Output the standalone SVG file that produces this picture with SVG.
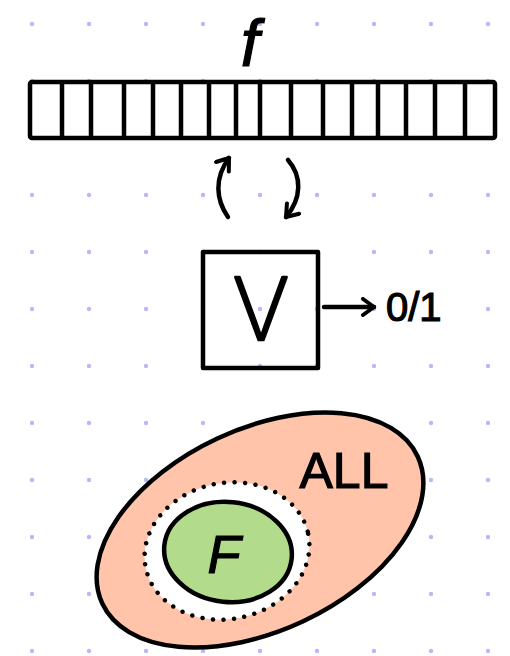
<svg xmlns="http://www.w3.org/2000/svg" width="510" height="656" viewBox="0 0 510 656">
  <defs>
    <pattern id="grid" x="0" y="0" width="57" height="57" patternUnits="userSpaceOnUse">
      <circle cx="32" cy="24" r="2.2" fill="#b9b9f7"/>
    </pattern>
    <marker id="head" viewBox="0 0 20 20" refX="16" refY="10" markerWidth="20" markerHeight="20" markerUnits="userSpaceOnUse" orient="auto">
      <path d="M5,2 L16,10 L5,18" fill="none" stroke="#000" stroke-width="4" stroke-linecap="round" stroke-linejoin="round"/>
    </marker>
  </defs>
  <style>
    .ink { fill: none; stroke: #000; stroke-width: 4.5; stroke-linecap: round; stroke-linejoin: round; }
    .lbl { font-family: "Liberation Sans", Arial, sans-serif; fill: #000; stroke: #000; stroke-width: 1.2; }
    .thin { font-family: Inter, "Open Sans", "DejaVu Sans", sans-serif; font-weight: 200; fill: #000; stroke: #000; stroke-width: 2.6; stroke-linejoin: round; }
  </style>
  <rect width="510" height="656" fill="#ffffff"/>
  <rect width="510" height="656" fill="url(#grid)"/>

  <g id="array">
    <rect class="ink" x="30" y="82" width="465" height="56" rx="2"/>
    <path class="ink" d="M62,83V137 M91,83V137 M124,83V137 M153,83V137 M181,83V137 M209,83V137 M236,83V137 M260,83V137 M291,83V137 M323,83V137 M352,83V137 M378,83V137 M406,83V137 M435,83V137 M465,83V137"/>
    <text class="lbl" x="250" y="66" font-size="66" text-anchor="middle" font-style="italic">f</text>
  </g>

  <g id="verifier">
    <rect class="ink" x="203" y="252" width="115" height="116"/>
    <text class="thin" x="261" y="340" font-size="86" text-anchor="middle">V</text>
  </g>

  <g id="output">
    <text class="lbl" x="386" y="321" font-size="40" stroke-width="1.8">0/1</text>
  </g>

  <g id="sets">
    <ellipse cx="260" cy="530" rx="174" ry="101" transform="rotate(-25 260 530)" fill="#ffc4a9" stroke="#000" stroke-width="4.5"/>
    <ellipse cx="227" cy="551" rx="83" ry="68" transform="rotate(-12 227 551)" fill="#ffffff" stroke="#000" stroke-width="4.5" stroke-dasharray="0 10.5" stroke-linecap="round"/>
    <ellipse cx="228" cy="552" rx="64" ry="50" transform="rotate(6 228 552)" fill="#b2dc8c" stroke="#000" stroke-width="4.5"/>
    <text class="lbl" x="224" y="573" font-size="54" text-anchor="middle" font-style="italic">F</text>
    <text class="lbl" x="344" y="488" font-size="50" text-anchor="middle" stroke-width="0.6">ALL</text>
  </g>

  <g id="connectors">
    <path class="ink" d="M228,217 C216,200 214,178 229,158" marker-end="url(#head)"/>
    <path class="ink" d="M288,160 C302,176 302,198 286,217" marker-end="url(#head)"/>
    <path class="ink" d="M324,307 H374" marker-end="url(#head)"/>
  </g>
</svg>
